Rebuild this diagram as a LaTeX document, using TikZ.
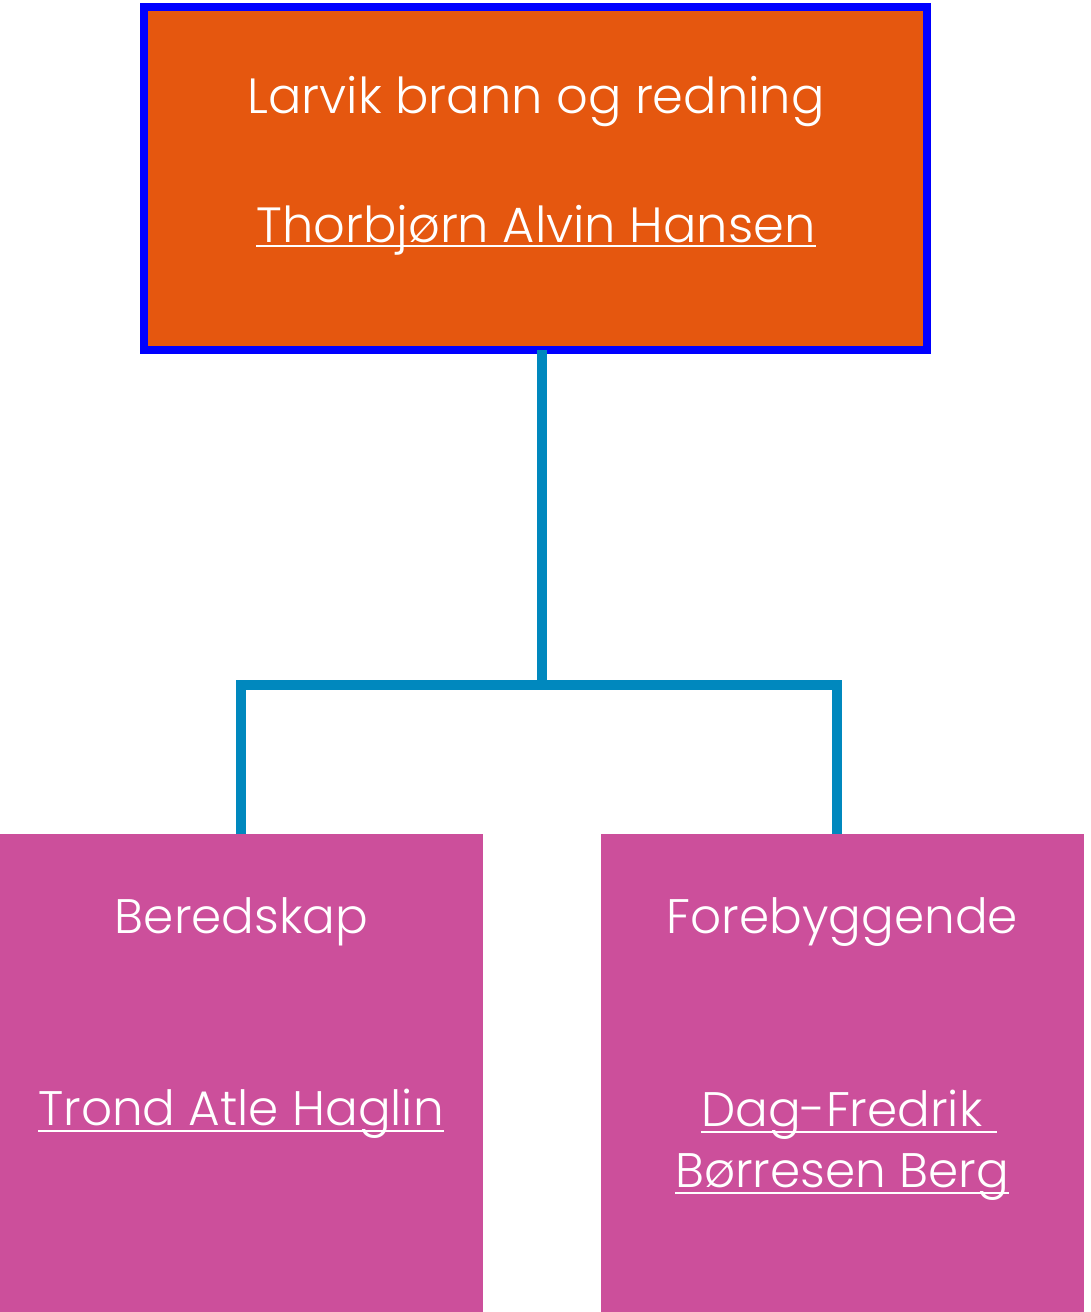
\documentclass[tikz,border=0pt]{standalone}
\usepackage{fontspec}
\setmainfont{Poppins}[UprightFont=* Light]
\definecolor{topfill}{HTML}{E5570F}
\definecolor{topborder}{HTML}{0000FF}
\definecolor{linkcol}{HTML}{0088BE}
\definecolor{boxfill}{HTML}{CC4F9B}
\tikzset{
  headbox/.style={draw=topborder, line width=8pt, fill=topfill, minimum width=783pt, minimum height=343pt, inner sep=0pt, outer sep=0pt},
  unitbox/.style={fill=boxfill, minimum width=483pt, minimum height=478pt, inner sep=0pt, outer sep=0pt},
  bigtxt/.style={text=white, anchor=base, inner sep=0pt, font=\fontsize{49.5}{60}\selectfont},
  smalltxt/.style={text=white, anchor=base, inner sep=0pt, font=\fontsize{48.5}{58}\selectfont},
  link/.style={draw=linkcol, line width=10pt, line join=miter},
  uline/.style={draw=white, line width=2.5pt}
}
\begin{document}
\begin{tikzpicture}[x=1pt,y=-1pt]
\useasboundingbox (0,0) rectangle (1090,1312);
\node[headbox] (top) at (535.5,178.5) {};
\node[unitbox] (left) at (241.5,1073) {};
\node[unitbox] (right) at (842.5,1073) {};
\node[bigtxt] (t1) at (536,113) {Larvik brann og redning};
\node[bigtxt] (t2) at (536,242) {Thorbjørn Alvin Hansen};
\node[smalltxt] (l1) at (241.5,933) {Beredskap};
\node[smalltxt] (l2) at (241,1125) {Trond Atle Haglin};
\node[smalltxt] (r1) at (842.5,933) {Forebyggende};
\node[smalltxt] (r2) at (849,1126) {Dag-Fredrik\kern0.3em};
\node[smalltxt] (r3) at (842,1187) {Børresen Berg};
\draw[uline] ([yshift=-4pt]t2.base west) -- ([yshift=-4pt]t2.base east);
\draw[uline] ([yshift=-6pt]l2.base west) -- ([yshift=-6pt]l2.base east);
\draw[uline] ([yshift=-6pt]r2.base west) -- ([yshift=-6pt]r2.base east);
\draw[uline] ([yshift=-6pt]r3.base west) -- ([yshift=-6pt]r3.base east);
\coordinate (j) at (541.5,684.5);
\coordinate (lj) at (241,684.5);
\coordinate (rj) at (837,684.5);
\draw[link] (top.south -| j) -- (j);
\draw[link] (left.north -| lj) -- (lj) -- (rj) -- (right.north -| rj);
\end{tikzpicture}
\end{document}
